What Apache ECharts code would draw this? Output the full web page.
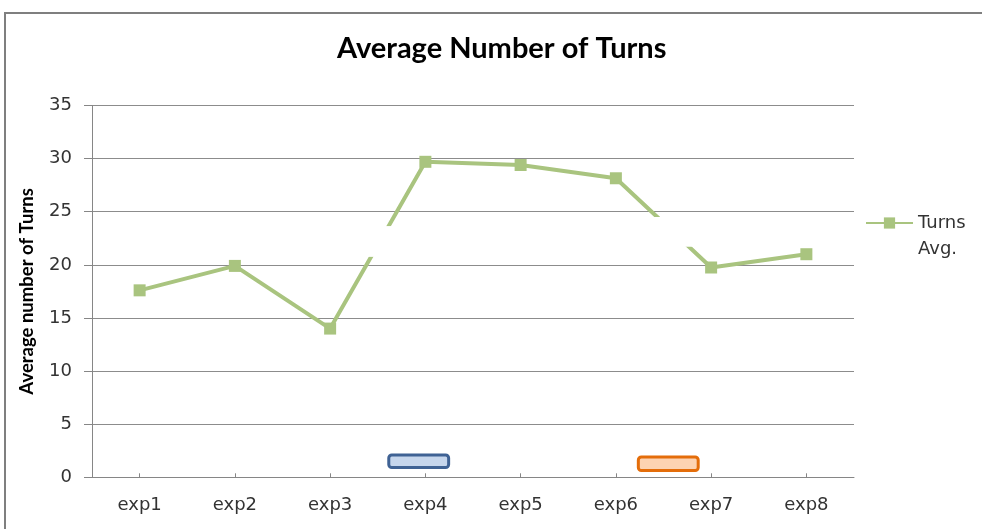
<!DOCTYPE html>
<html>
<head>
<meta charset="utf-8">
<script src="https://cdn.jsdelivr.net/npm/echarts@6/dist/echarts.min.js"></script>
<style>
  html, body { margin: 0; padding: 0; background: #fff; }
  #chart { width: 982px; height: 529px; }
</style>
</head>
<body>
<div id="chart"></div>
<script>
// Experiment labels along the x axis
const categories = ['exp1', 'exp2', 'exp3', 'exp4', 'exp5', 'exp6', 'exp7', 'exp8'];
// Average number of turns per experiment
const turnsAvg = [17.6, 19.9, 14.0, 29.7, 29.4, 28.15, 19.75, 21.0];
// Value axis ticks
const yTicks = { min: 0, max: 35, interval: 5 };

// White patches lying over the line: [categoryFrom, categoryTo, valueFrom, valueTo]
const whitePatches = [
  [2.35, 2.67, 20.75, 23.65],
  [5.40, 5.90, 21.7, 24.5]
];
// Small annotation boxes: [categoryFrom, categoryTo, valueFrom, valueTo, fill, stroke]
const noteBoxes = [
  [2.60, 3.26, 0.78, 2.24, '#c6d6ec', '#3f6294'],
  [5.22, 5.88, 0.50, 2.05, '#fdd3b2', '#e46d0a']
];

const lineColor = '#a9c47f';
const chart = echarts.init(document.getElementById('chart'), null, { renderer: 'canvas' });

// Convert a fractional category position + value to a pixel point
function toPoint(api, catPos, val) {
  const base = Math.floor(catPos);
  const p = api.coord([base, val]);
  const band = api.size([1, 0])[0];
  return [p[0] + (catPos - base) * band, p[1]];
}

function rectFrom(api, spec) {
  const a = toPoint(api, spec[0], spec[3]);
  const b = toPoint(api, spec[1], spec[2]);
  return { x: a[0], y: a[1], width: b[0] - a[0], height: b[1] - a[1] };
}

chart.setOption({
  animation: false,
  backgroundColor: '#ffffff',
  graphic: [{
    type: 'rect',
    shape: { x: 5, y: 13, width: 1000, height: 560 },
    style: { fill: 'none', stroke: '#7f7f7f', lineWidth: 2 },
    silent: true,
    z: 100
  }],
  title: {
    text: 'Average Number of Turns',
    left: 332,
    top: 29,
    textStyle: { fontFamily: 'Lato', fontWeight: 'bold', fontSize: 29, color: '#000' }
  },
  legend: {
    left: 860,
    top: 179,
    itemWidth: 47,
    itemHeight: 14,
    data: [{ name: 'Turns Avg.' }],
    // blank first line keeps "Turns" level with the legend symbol
    formatter: () => '\u00a0\nTurns\nAvg.',
    textStyle: {
      fontFamily: 'DejaVu Sans',
      fontSize: 18,
      color: '#333',
      lineHeight: 26
    }
  },
  grid: { left: 92, right: 128, top: 105.5, bottom: 51.7, containLabel: false },
  xAxis: {
    type: 'category',
    data: categories,
    boundaryGap: true,
    axisLine: { lineStyle: { color: '#868686', width: 1 } },
    axisTick: { show: true, alignWithLabel: true, inside: true, length: 4, lineStyle: { color: '#868686' } },
    axisLabel: { fontFamily: 'DejaVu Sans', fontSize: 18, color: '#333', margin: 19 },
    splitLine: { show: false }
  },
  yAxis: {
    type: 'value',
    min: yTicks.min,
    max: yTicks.max,
    interval: yTicks.interval,
    name: 'Average number of Turns',
    nameLocation: 'middle',
    nameGap: 55,
    nameTextStyle: { fontFamily: 'Lato', fontWeight: 'bold', fontSize: 18.5, color: '#000' },
    axisLine: { show: true, lineStyle: { color: '#868686', width: 1 } },
    axisTick: { show: true, length: 8, lineStyle: { color: '#868686' } },
    axisLabel: { fontFamily: 'DejaVu Sans', fontSize: 18, color: '#333', margin: 20 },
    splitLine: { lineStyle: { color: '#8c8c8c', width: 1 } }
  },
  series: [
    {
      name: 'Turns Avg.',
      type: 'line',
      data: turnsAvg,
      symbol: 'rect',
      symbolSize: 12,
      lineStyle: { color: lineColor, width: 4 },
      itemStyle: { color: lineColor },
      z: 2
    },
    {
      name: 'patches',
      type: 'custom',
      data: whitePatches.map((_, i) => [i]),
      silent: true,
      z: 5,
      renderItem: (params, api) => {
        const r = rectFrom(api, whitePatches[params.dataIndex]);
        return { type: 'rect', shape: r, style: { fill: '#ffffff', stroke: null } };
      }
    },
    {
      name: 'notes',
      type: 'custom',
      data: noteBoxes.map((_, i) => [i]),
      silent: true,
      z: 6,
      renderItem: (params, api) => {
        const b = noteBoxes[params.dataIndex];
        const r = rectFrom(api, b);
        r.x += 1.5; r.y += 1.5; r.width -= 3; r.height -= 3; r.r = 3;
        return { type: 'rect', shape: r, style: { fill: b[4], stroke: b[5], lineWidth: 3 } };
      }
    }
  ]
});
</script>
</body>
</html>
